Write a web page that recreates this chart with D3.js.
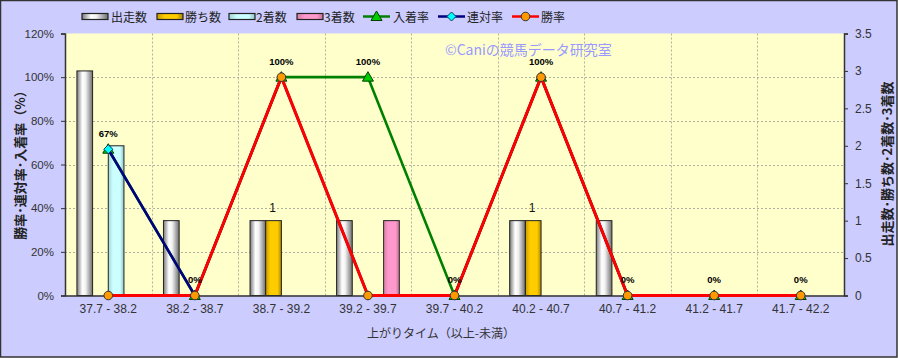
<!DOCTYPE html>
<html><head><meta charset="utf-8">
<script src="https://cdn.jsdelivr.net/npm/d3@7"></script>
<style>
html,body{margin:0;padding:0;background:#fff;}
svg{display:block;}
</style></head>
<body>
<svg id="chart" width="898" height="358"></svg>
<script>
const categories = ["37.7 - 38.2","38.2 - 38.7","38.7 - 39.2","39.2 - 39.7","39.7 - 40.2","40.2 - 40.7","40.7 - 41.2","41.2 - 41.7","41.7 - 42.2"];
const runs   = [3,1,1,1,0,1,1,0,0];   // 出走数
const wins   = [0,0,1,0,0,1,0,0,0];   // 勝ち数
const second = [2,0,0,0,0,0,0,0,0];   // 2着数
const third  = [0,0,0,1,0,0,0,0,0];   // 3着数
const placeRate = [67,0,100,100,0,100,0,0,0]; // 入着率
const quinRate  = [67,0,100,0,0,100,0,0,0];   // 連対率
const winRate   = [0,0,100,0,0,100,0,0,0];    // 勝率
const leftTicks  = [0,20,40,60,80,100,120];
const rightTicks = [0,0.5,1,1.5,2,2.5,3,3.5];

const svg = d3.select("#chart");
const W = 898, H = 358;
const x0 = 65, x1 = 844, y0 = 33.5, y1 = 295.5;
const JP = "'Noto Sans CJK JP','Noto Sans',sans-serif";
const LAT = "'Liberation Sans',Arial,sans-serif";

svg.append("rect").attr("x",0.5).attr("y",0.5).attr("width",W-1.5).attr("height",H-1.5)
  .attr("fill","#ccccff").attr("stroke","#333").attr("stroke-width",1.5);

const defs = svg.append("defs");
function grad(id, stops){
  const g = defs.append("linearGradient").attr("id",id).attr("x1","0").attr("x2","1").attr("y1","0").attr("y2","0");
  stops.forEach(s=>g.append("stop").attr("offset",s[0]).attr("stop-color",s[1]));
}
grad("gRun",[["0%","#7a7a7a"],["35%","#ffffff"],["55%","#f2f2f2"],["100%","#6e6e6e"]]);
grad("gWin",[["0%","#c89b00"],["30%","#ffcc00"],["75%","#ffcc00"],["100%","#a88600"]]);
grad("gSec",[["0%","#9fd6d6"],["30%","#ccffff"],["75%","#ccffff"],["100%","#8fc4c4"]]);
grad("gThi",[["0%","#d67fa8"],["30%","#ff99cc"],["75%","#ff99cc"],["100%","#c87099"]]);

const xBand = d3.scaleBand().domain(categories).range([x0,x1]).padding(0);
const barSeries = [
  {name:"出走数", data:runs, fill:"url(#gRun)"},
  {name:"勝ち数", data:wins, fill:"url(#gWin)"},
  {name:"2着数", data:second, fill:"url(#gSec)"},
  {name:"3着数", data:third, fill:"url(#gThi)"}
];
const inner = d3.scaleBand().domain(barSeries.map(d=>d.name)).range([0,xBand.bandwidth()]).paddingInner(0).paddingOuter(0.76);
const yL = d3.scaleLinear().domain([0,120]).range([y1,y0]);
const yR = d3.scaleLinear().domain([0,3.5]).range([y1,y0]);

// plot area
svg.append("rect").attr("x",x0).attr("y",y0).attr("width",x1-x0).attr("height",y1-y0).attr("fill","#ffffcc");
// grid
svg.append("g").selectAll("line").data(leftTicks.filter(t=>t>0&&t<120)).join("line")
  .attr("x1",x0).attr("x2",x1).attr("y1",d=>Math.round(yL(d))+0.5).attr("y2",d=>Math.round(yL(d))+0.5)
  .attr("stroke","#b0b0a0").attr("stroke-width",1).attr("stroke-dasharray","2,2");
svg.append("g").selectAll("line").data(categories.slice(1)).join("line")
  .attr("x1",d=>Math.round(xBand(d))+0.5).attr("x2",d=>Math.round(xBand(d))+0.5).attr("y1",y0).attr("y2",y1)
  .attr("stroke","#b0b0a0").attr("stroke-width",1).attr("stroke-dasharray","2,2");

// watermark
svg.append("text").attr("x",445).attr("y",54.5).attr("font-family",JP).attr("font-size",14)
  .attr("fill","#9999ff").text("©Caniの競馬データ研究室");

// bars
barSeries.forEach(s=>{
  svg.append("g").selectAll("rect").data(categories.map((c,i)=>({c,v:s.data[i]})).filter(d=>d.v>0)).join("rect")
    .attr("x",d=>xBand(d.c)+inner(s.name))
    .attr("y",d=>yR(d.v))
    .attr("width",inner.bandwidth())
    .attr("height",d=>y1-yR(d.v))
    .attr("fill",s.fill).attr("stroke","#222").attr("stroke-width",1);
});
// bar labels (勝ち数)
svg.append("g").selectAll("text").data(categories.map((c,i)=>({c,v:wins[i]})).filter(d=>d.v>0)).join("text")
  .attr("x",d=>xBand(d.c)+inner("勝ち数")+inner.bandwidth()/2-1)
  .attr("y",d=>yR(d.v)-9).attr("text-anchor","middle")
  .attr("font-family",LAT).attr("font-size",12).attr("fill","#111").text(d=>d.v);

// axes
const axL = svg.append("g").attr("transform",`translate(${x0},0)`)
  .call(d3.axisLeft(yL).tickValues(leftTicks).tickFormat(d=>d+"%").tickSize(4).tickPadding(7));
const axR = svg.append("g").attr("transform",`translate(${x1},0)`)
  .call(d3.axisRight(yR).tickValues(rightTicks).tickFormat(d=>d).tickSize(4).tickPadding(7));
const axB = svg.append("g").attr("transform",`translate(0,${y1})`)
  .call(d3.axisBottom(xBand).tickSize(0).tickPadding(9));
[axL,axR,axB].forEach(a=>{
  a.select(".domain").attr("stroke","#333").attr("stroke-width",1.5);
  a.selectAll(".tick line").attr("stroke","#333");
  a.selectAll("text").attr("font-family",LAT).attr("font-size",12).attr("fill","#333");
});
axL.selectAll("text").attr("font-size",11.5);

// lines
const cx = c=>xBand(c)+xBand.bandwidth()/2;
const lineSeries = [
  {name:"入着率", data:placeRate, color:"#008000", marker:"triangle", mfill:"#00cc00"},
  {name:"連対率", data:quinRate,  color:"#000080", marker:"diamond",  mfill:"#00ffff"},
  {name:"勝率",   data:winRate,   color:"#ff0000", marker:"circle",   mfill:"#ff9900"}
];
function drawMarker(g, type, fill, x, y){
  if(type==="circle") g.append("circle").attr("cx",x).attr("cy",y).attr("r",4.3).attr("fill",fill).attr("stroke","#333").attr("stroke-width",1);
  else if(type==="triangle") g.append("path").attr("d",`M${x},${y-5.5}L${x+5.5},${y+4}L${x-5.5},${y+4}Z`).attr("fill",fill).attr("stroke","#004000").attr("stroke-width",1);
  else g.append("path").attr("d",`M${x},${y-4.5}L${x+4.5},${y}L${x},${y+4.5}L${x-4.5},${y}Z`).attr("fill",fill).attr("stroke","#004060").attr("stroke-width",1);
}
const line = d3.line().x(d=>cx(d.c)).y(d=>yL(d.v));
lineSeries.forEach(s=>{
  const pts = categories.map((c,i)=>({c,v:s.data[i]}));
  const g = svg.append("g");
  g.append("path").datum(pts).attr("d",line).attr("fill","none").attr("stroke",s.color)
    .attr("stroke-width", s.name==="勝率"?3:2.6).attr("stroke-linejoin","round");
  pts.forEach(p=>drawMarker(g, s.marker, s.mfill, cx(p.c), yL(p.v)));
});
// percentage labels (入着率)
svg.append("g").selectAll("text").data(categories.map((c,i)=>({c,v:placeRate[i]}))).join("text")
  .attr("x",d=>cx(d.c)).attr("y",d=>yL(d.v)-12.5).attr("text-anchor","middle")
  .attr("font-family",LAT).attr("font-size",9.5).attr("font-weight","bold").attr("fill","#000")
  .text(d=>d.v+"%");

// axis titles
svg.append("text").attr("transform","translate(25,162) rotate(-90)").attr("text-anchor","middle")
  .attr("font-family",JP).attr("font-size",13).attr("font-weight","bold").attr("fill","#222")
  .text("勝率･連対率･入着率（%）");
svg.append("text").attr("transform","translate(892,164) rotate(-90)").attr("text-anchor","middle")
  .attr("font-family",JP).attr("font-size",13).attr("font-weight","bold").attr("fill","#222")
  .text("出走数･勝ち数･2着数･3着数");
svg.append("text").attr("x",441).attr("y",338).attr("text-anchor","middle")
  .attr("font-family",JP).attr("font-size",12).attr("fill","#333").text("上がりタイム（以上-未満）");

// legend
const leg = svg.append("g");
const barLeg = [
  {name:"出走数", fill:"url(#gRun)", sx:82, tx:111},
  {name:"勝ち数", fill:"url(#gWin)", sx:157, tx:185},
  {name:"2着数", fill:"url(#gSec)", sx:229, tx:256},
  {name:"3着数", fill:"url(#gThi)", sx:297, tx:324}
];
barLeg.forEach(b=>{
  leg.append("rect").attr("x",b.sx).attr("y",13.5).attr("width",26).attr("height",6).attr("fill",b.fill).attr("stroke","#222").attr("stroke-width",1.2);
  leg.append("text").attr("x",b.tx).attr("y",21.5).attr("font-family",JP).attr("font-size",12).attr("fill","#222").text(b.name);
});
const lineLeg = [
  {s:lineSeries[0], sx:363, tx:393},
  {s:lineSeries[1], sx:438, tx:467},
  {s:lineSeries[2], sx:512, tx:541}
];
lineLeg.forEach(l=>{
  leg.append("line").attr("x1",l.sx).attr("x2",l.sx+27).attr("y1",16.5).attr("y2",16.5).attr("stroke",l.s.color).attr("stroke-width",2.5);
  drawMarker(leg, l.s.marker, l.s.mfill, l.sx+13.5, 16.5);
  leg.append("text").attr("x",l.tx).attr("y",21.5).attr("font-family",JP).attr("font-size",12).attr("fill","#222").text(l.s.name);
});
</script>
</body></html>
